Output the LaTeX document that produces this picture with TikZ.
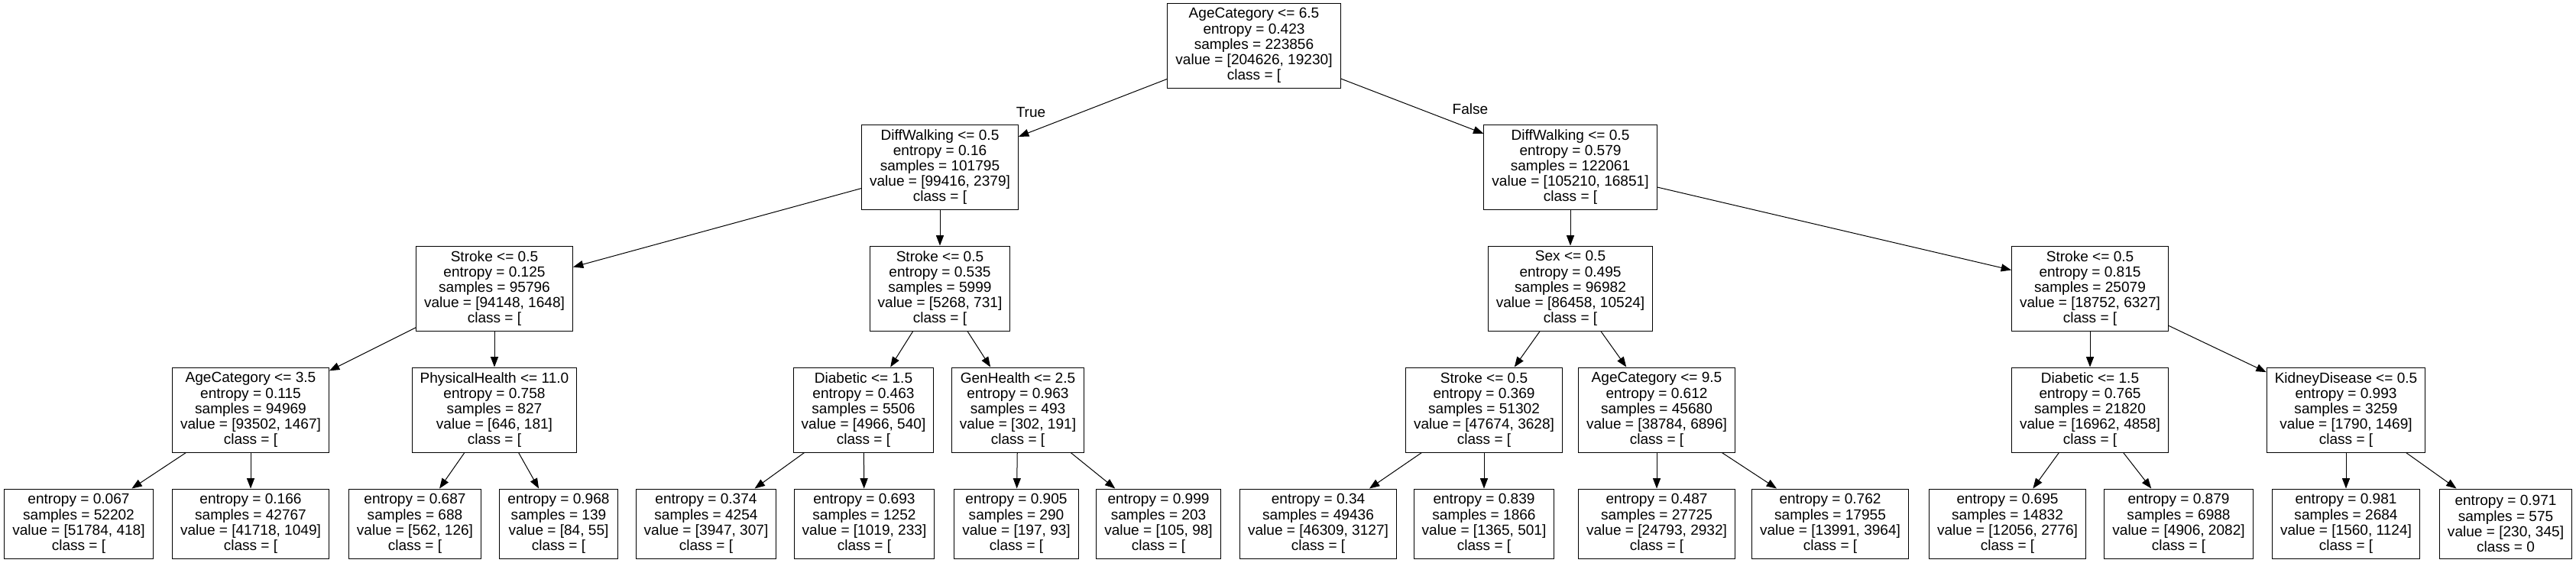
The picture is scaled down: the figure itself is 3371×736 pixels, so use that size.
\documentclass[tikz,border=0pt]{standalone}
\usepackage{fontspec}
\setmainfont{Liberation Sans}
\usetikzlibrary{arrows.meta}

\begin{document}
\begin{tikzpicture}[x=0.75pt, y=-0.75pt,
    split/.style={draw, line width=0.75pt, align=center, font=\fontsize{14.3}{15.1}\selectfont,
        inner xsep=7.9pt, inner ysep=0pt, minimum height=83.25pt},
    leaf/.style={split, minimum height=68.25pt},
    edge/.style={line width=0.75pt, -{Triangle[length=10pt, width=7.5pt]}},
    branch/.style={font=\fontsize{14.3}{15.1}\selectfont, inner sep=0pt}]

    \fill[white] (0,0) rectangle (3371,736);

    % root
    \node[split] (root) at (1641,59.5) {AgeCategory <= 6.5\\entropy = 0.423\\samples = 223856\\value = [204626, 19230]\\class = [};

    % depth 1
    \node[split] (nL) at (1230,218.5) {DiffWalking <= 0.5\\entropy = 0.16\\samples = 101795\\value = [99416, 2379]\\class = [};
    \node[split] (nR) at (2055,218.5) {DiffWalking <= 0.5\\entropy = 0.579\\samples = 122061\\value = [105210, 16851]\\class = [};
    \node[branch] (lblT) at (1349,147) {True};
    \node[branch] (lblF) at (1924,143) {False};

    % depth 2
    \node[split] (nLL) at (647,377.5) {Stroke <= 0.5\\entropy = 0.125\\samples = 95796\\value = [94148, 1648]\\class = [};
    \node[split] (nLR) at (1230,377.5) {Stroke <= 0.5\\entropy = 0.535\\samples = 5999\\value = [5268, 731]\\class = [};
    \node[split] (nRL) at (2055,377.5) {Sex <= 0.5\\entropy = 0.495\\samples = 96982\\value = [86458, 10524]\\class = [};
    \node[split] (nRR) at (2735,377.5) {Stroke <= 0.5\\entropy = 0.815\\samples = 25079\\value = [18752, 6327]\\class = [};

    % depth 3
    \node[split] (nLLL) at (328,536.5) {AgeCategory <= 3.5\\entropy = 0.115\\samples = 94969\\value = [93502, 1467]\\class = [};
    \node[split] (nLLR) at (647,536.5) {PhysicalHealth <= 11.0\\entropy = 0.758\\samples = 827\\value = [646, 181]\\class = [};
    \node[split] (nLRL) at (1130,536.5) {Diabetic <= 1.5\\entropy = 0.463\\samples = 5506\\value = [4966, 540]\\class = [};
    \node[split] (nLRR) at (1332,536.5) {GenHealth <= 2.5\\entropy = 0.963\\samples = 493\\value = [302, 191]\\class = [};
    \node[split] (nRLL) at (1942,536.5) {Stroke <= 0.5\\entropy = 0.369\\samples = 51302\\value = [47674, 3628]\\class = [};
    \node[split] (nRLR) at (2168,536.5) {AgeCategory <= 9.5\\entropy = 0.612\\samples = 45680\\value = [38784, 6896]\\class = [};
    \node[split] (nRRL) at (2735,536.5) {Diabetic <= 1.5\\entropy = 0.765\\samples = 21820\\value = [16962, 4858]\\class = [};
    \node[split] (nRRR) at (3070,536.5) {KidneyDisease <= 0.5\\entropy = 0.993\\samples = 3259\\value = [1790, 1469]\\class = [};

    % leaves
    \node[leaf] (lf1) at (103,685.5) {entropy = 0.067\\samples = 52202\\value = [51784, 418]\\class = [};
    \node[leaf] (lf2) at (328,685.5) {entropy = 0.166\\samples = 42767\\value = [41718, 1049]\\class = [};
    \node[leaf] (lf3) at (543,685.5) {entropy = 0.687\\samples = 688\\value = [562, 126]\\class = [};
    \node[leaf] (lf4) at (731,685.5) {entropy = 0.968\\samples = 139\\value = [84, 55]\\class = [};
    \node[leaf] (lf5) at (924,685.5) {entropy = 0.374\\samples = 4254\\value = [3947, 307]\\class = [};
    \node[leaf] (lf6) at (1131,685.5) {entropy = 0.693\\samples = 1252\\value = [1019, 233]\\class = [};
    \node[leaf] (lf7) at (1330,685.5) {entropy = 0.905\\samples = 290\\value = [197, 93]\\class = [};
    \node[leaf] (lf8) at (1516,685.5) {entropy = 0.999\\samples = 203\\value = [105, 98]\\class = [};
    \node[leaf] (lf9) at (1725,685.5) {entropy = 0.34\\samples = 49436\\value = [46309, 3127]\\class = [};
    \node[leaf] (lf10) at (1942,685.5) {entropy = 0.839\\samples = 1866\\value = [1365, 501]\\class = [};
    \node[leaf] (lf11) at (2168,685.5) {entropy = 0.487\\samples = 27725\\value = [24793, 2932]\\class = [};
    \node[leaf] (lf12) at (2395,685.5) {entropy = 0.762\\samples = 17955\\value = [13991, 3964]\\class = [};
    \node[leaf] (lf13) at (2627,685.5) {entropy = 0.695\\samples = 14832\\value = [12056, 2776]\\class = [};
    \node[leaf] (lf14) at (2851,685.5) {entropy = 0.879\\samples = 6988\\value = [4906, 2082]\\class = [};
    \node[leaf] (lf15) at (3070,685.5) {entropy = 0.981\\samples = 2684\\value = [1560, 1124]\\class = [};
    \node[leaf] (lf16) at (3279,685.5) {entropy = 0.971\\samples = 575\\value = [230, 345]\\class = 0};

    % edges
    \draw[edge] (root) -- (nL);
    \draw[edge] (root) -- (nR);
    \draw[edge] (nL) -- (nLL);
    \draw[edge] (nL) -- (nLR);
    \draw[edge] (nR) -- (nRL);
    \draw[edge] (nR) -- (nRR);
    \draw[edge] (nLL) -- (nLLL);
    \draw[edge] (nLL) -- (nLLR);
    \draw[edge] (nLR) -- (nLRL);
    \draw[edge] (nLR) -- (nLRR);
    \draw[edge] (nRL) -- (nRLL);
    \draw[edge] (nRL) -- (nRLR);
    \draw[edge] (nRR) -- (nRRL);
    \draw[edge] (nRR) -- (nRRR);
    \draw[edge] (nLLL) -- (lf1);
    \draw[edge] (nLLL) -- (lf2);
    \draw[edge] (nLLR) -- (lf3);
    \draw[edge] (nLLR) -- (lf4);
    \draw[edge] (nLRL) -- (lf5);
    \draw[edge] (nLRL) -- (lf6);
    \draw[edge] (nLRR) -- (lf7);
    \draw[edge] (nLRR) -- (lf8);
    \draw[edge] (nRLL) -- (lf9);
    \draw[edge] (nRLL) -- (lf10);
    \draw[edge] (nRLR) -- (lf11);
    \draw[edge] (nRLR) -- (lf12);
    \draw[edge] (nRRL) -- (lf13);
    \draw[edge] (nRRL) -- (lf14);
    \draw[edge] (nRRR) -- (lf15);
    \draw[edge] (nRRR) -- (lf16);
\end{tikzpicture}
\end{document}
